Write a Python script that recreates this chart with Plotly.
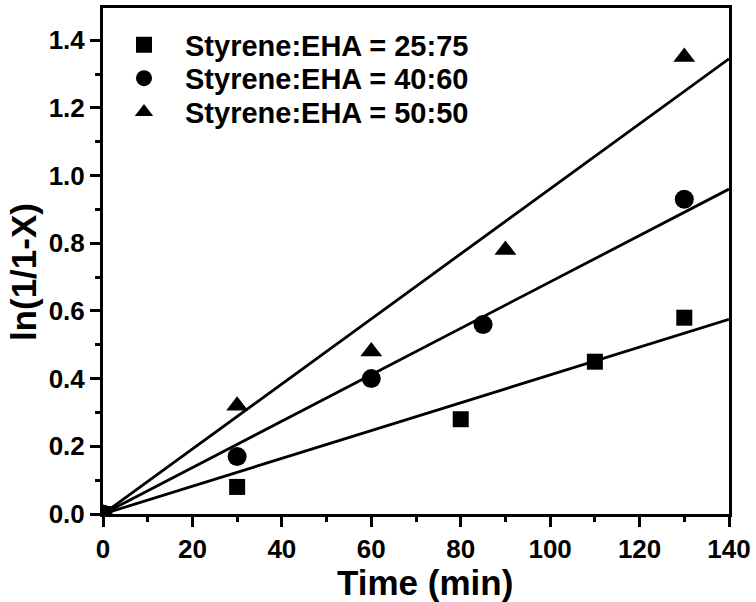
import plotly.graph_objects as go

# Data
t_2575 = [0, 30, 80, 110, 130]
y_2575 = [0, 0.08, 0.28, 0.45, 0.58]
t_4060 = [0, 30, 60, 85, 130]
y_4060 = [0, 0.17, 0.40, 0.56, 0.93]
t_5050 = [0, 30, 60, 90, 130]
y_5050 = [0, 0.32, 0.48, 0.78, 1.35]

fit_t = [0, 140]
fit_2575 = [0, 0.575]
fit_4060 = [0, 0.96]
fit_5050 = [0, 1.345]

names = ["Styrene:EHA = 25:75", "Styrene:EHA = 40:60", "Styrene:EHA = 50:50"]
x_title = "Time (min)"
y_title = "ln(1/1-X)"

FONT = "Arial, 'Liberation Sans', sans-serif"

fig = go.Figure()
for ft, fy in [(fit_t, fit_2575), (fit_t, fit_4060), (fit_t, fit_5050)]:
    fig.add_trace(go.Scatter(x=ft, y=fy, mode="lines",
                             line=dict(color="black", width=2.8),
                             showlegend=False, hoverinfo="skip"))

legend_ids = ["legend", "legend2", "legend3"]
series = [(t_2575, y_2575, "square", 16), (t_4060, y_4060, "circle", 19), (t_5050, y_5050, "triangle-up", 19)]
for i, (x, y, sym, sz) in enumerate(series):
    fig.add_trace(go.Scatter(x=x, y=y, mode="markers", name="<b>" + names[i] + "</b>",
                             legend=legend_ids[i],
                             marker=dict(symbol=sym, size=sz, color="black",
                                         line=dict(width=0))))

axis_common = dict(
    showline=True, linecolor="black", linewidth=3, mirror=True,
    ticks="outside", ticklen=10, tickwidth=2.5, tickcolor="black",
    showgrid=False, zeroline=False,
    tickfont=dict(size=26, family=FONT, color="black"),
    tickprefix="<b>", ticksuffix="</b>",
)

def leg(yfrac):
    return dict(x=0.0, y=yfrac, xanchor="left", yanchor="middle",
                font=dict(size=29, family=FONT, color="black"),
                bgcolor="rgba(0,0,0,0)", itemwidth=72, itemsizing="trace")

fig.update_layout(
    width=756, height=602,
    margin=dict(l=103, r=25, t=5, b=88),
    paper_bgcolor="white", plot_bgcolor="white",
    font=dict(family=FONT, color="black"),
    showlegend=True,
    legend=leg(0.927), legend2=leg(0.861), legend3=leg(0.794),
    xaxis=dict(range=[0, 140], dtick=20, tick0=0,
               minor=dict(dtick=10, ticks="outside", ticklen=5, tickwidth=2.5, tickcolor="black"),
               **axis_common),
    yaxis=dict(range=[0, 1.495], dtick=0.2, tick0=0, tickformat=".1f",
               minor=dict(dtick=0.1, ticks="outside", ticklen=5, tickwidth=2.5, tickcolor="black"),
               **axis_common),
    annotations=[
        dict(text="<b>" + x_title + "</b>", xref="paper", yref="paper",
             x=0.514, y=-0.135, xanchor="center", yanchor="middle", showarrow=False,
             font=dict(size=35, family=FONT, color="black")),
        dict(text="<b>" + y_title + "</b>", xref="paper", yref="paper",
             x=-0.127, y=0.479, xanchor="center", yanchor="middle", showarrow=False,
             textangle=-90, font=dict(size=35, family=FONT, color="black")),
    ],
)

fig.write_html("out.html", config={"displayModeBar": False},
               post_script="document.body.style.margin='0';")
